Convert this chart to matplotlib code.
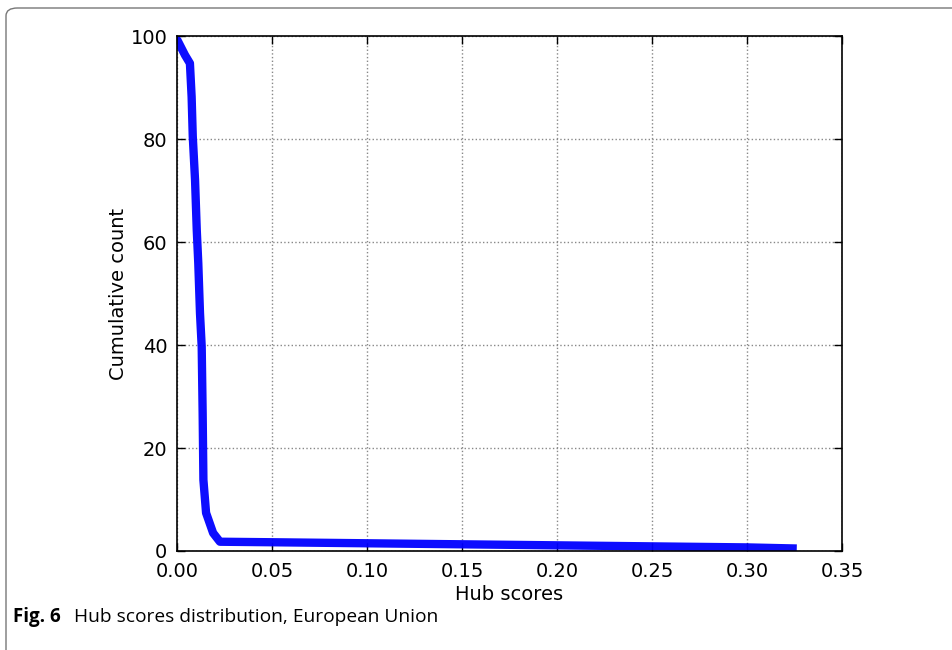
import matplotlib.pyplot as plt
from matplotlib.patches import FancyBboxPatch

# hub score vs cumulative count
hub = [0.0, 0.0002, 0.0042, 0.0068, 0.0077, 0.0083, 0.0095, 0.0104, 0.0112,
       0.0121, 0.0130, 0.0135, 0.0139, 0.0153, 0.0190, 0.0226, 0.05, 0.10,
       0.15, 0.20, 0.25, 0.30, 0.324]
count = [99.0, 99.2, 96.3, 94.7, 88.2, 80.5, 72.0, 62.3, 55.9,
         46.2, 39.7, 26.8, 13.8, 7.4, 3.5, 1.8, 1.7, 1.5,
         1.3, 1.1, 0.9, 0.7, 0.5]

xticks = [0.00, 0.05, 0.10, 0.15, 0.20, 0.25, 0.30, 0.35]
yticks = [0, 20, 40, 60, 80, 100]

fig = plt.figure(figsize=(9.53, 6.5), dpi=100)
ax = fig.add_axes([177/953, 1-551/650, (842-177)/953, (551-36)/650])

ax.plot(hub, count, color='#0000ff', lw=6, solid_joinstyle='round', alpha=0.95)

ax.set_xlim(0, 0.35)
ax.set_ylim(0, 100)
ax.set_xticks(xticks)
ax.set_yticks(yticks)
ax.set_xticklabels(['%.2f' % t for t in xticks])
ax.grid(True, linestyle=':', color='#888888', linewidth=1.0)
ax.tick_params(direction='in', top=True, right=True, labelsize=14, length=6,
               width=1)
ax.tick_params(axis='x', pad=8)
ax.tick_params(axis='y', pad=7)
for s in ax.spines.values():
    s.set_linewidth(1.2)
ax.set_xlabel('Hub scores', fontsize=14, labelpad=3)
ax.set_ylabel('Cumulative count', fontsize=14, labelpad=2)

# page frame and caption
frame = FancyBboxPatch((6/953, -0.1), 1.2, 1 - 8/650 + 0.1,
                       boxstyle='round,pad=0,rounding_size=0.012',
                       transform=fig.transFigure, fill=False,
                       edgecolor='#777777', linewidth=1.0, clip_on=False)
fig.patches.append(frame)
fig.text(13/953, 1-617/650, 'Fig. 6', fontsize=13.5, fontweight='bold',
         family='Open Sans', va='center')
fig.text(74/953, 1-617/650, 'Hub scores distribution, European Union',
         fontsize=13.8, family='Open Sans', va='center')

fig.savefig('out.png', dpi=100)
